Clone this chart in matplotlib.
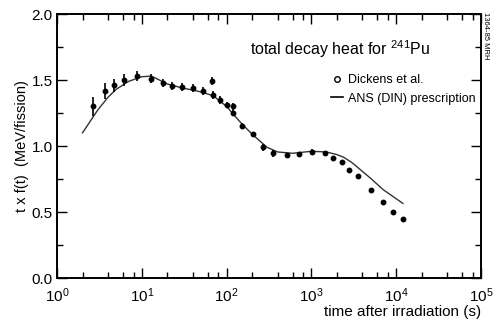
import matplotlib
matplotlib.use("Agg")
import matplotlib.pyplot as plt
from matplotlib.lines import Line2D
from matplotlib.ticker import LogLocator, MultipleLocator, NullFormatter
import numpy as np

plt.rcParams['font.family'] = ['Liberation Sans', 'DejaVu Sans']
plt.rcParams['mathtext.fontset'] = 'custom'
plt.rcParams['mathtext.rm'] = 'Liberation Sans'

# Dickens et al. measured points
t_meas = [2.68, 3.68, 4.74, 6.2, 8.85, 12.7, 17.9, 22.9, 30, 40.5, 53, 67.7, 69.5,
          83.6, 100, 120, 120, 151, 203, 268, 355, 510, 711, 1024, 1440, 1810,
          2300, 2810, 3550, 5030, 7070, 9120, 12100]
f_meas = [1.30, 1.42, 1.46, 1.50, 1.53, 1.51, 1.48, 1.457, 1.45, 1.437, 1.417, 1.49, 1.39,
          1.35, 1.31, 1.30, 1.25, 1.155, 1.09, 0.99, 0.945, 0.93, 0.937, 0.957, 0.945, 0.907,
          0.876, 0.82, 0.77, 0.67, 0.573, 0.50, 0.45]
f_err = [0.07, 0.06, 0.05, 0.045, 0.04, 0.035, 0.03, 0.03, 0.03, 0.03, 0.03, 0.03, 0.03,
         0.03, 0.025, 0.025, 0.025, 0.02, 0.02, 0.025, 0.025, 0.02, 0.02, 0.02, 0.015, 0.01,
         0.0, 0.0, 0.0, 0.0, 0.0, 0.0, 0.0]

# ANS (DIN) prescription curve
t_ans = [2, 3, 4, 5, 7, 10, 13, 20, 30, 50, 70, 100, 150, 200, 300, 400, 600,
         1000, 1500, 2000, 2400, 3000, 5000, 7000, 12000]
f_ans = [1.10, 1.27, 1.37, 1.43, 1.49, 1.525, 1.53, 1.47, 1.44, 1.41, 1.38, 1.30, 1.17,
         1.09, 0.99, 0.955, 0.945, 0.96, 0.955, 0.935, 0.915, 0.875, 0.755, 0.67, 0.565]

fig = plt.figure(figsize=(4.94, 3.27), dpi=100)
ax = fig.add_axes([0.1154, 0.1498, 0.8583, 0.8073])

ax.plot(t_ans, f_ans, color='#333333', lw=1.0)
ax.errorbar(t_meas, f_meas, yerr=f_err, fmt='o', color='black', ms=3.2,
            elinewidth=1.2, capsize=0)

ax.set_xscale('log')
ax.set_xlim(1, 1e5)
ax.set_ylim(0, 2.0)

ax.xaxis.set_major_locator(LogLocator(base=10, numticks=10))
ax.xaxis.set_minor_locator(LogLocator(base=10, subs=[2, 4, 6, 8], numticks=10))
ax.xaxis.set_minor_formatter(NullFormatter())
ax.yaxis.set_major_locator(MultipleLocator(0.5))
ax.yaxis.set_minor_locator(MultipleLocator(0.25))
ax.yaxis.set_major_formatter(plt.FuncFormatter(lambda v, p: f"{v:.1f}"))

ax.tick_params(which='both', direction='in', top=True, right=True, width=1.0,
               labelsize=11, pad=3)
ax.tick_params(axis='x', which='major', pad=6)
ax.tick_params(which='major', length=7)
ax.tick_params(which='minor', length=4)
for s in ax.spines.values():
    s.set_linewidth(1.4)

ax.set_xlabel('time after irradiation (s)', fontsize=11, loc='right', labelpad=0)
ax.set_ylabel('t x f(t)  (MeV/fission)', fontsize=10.5, labelpad=2)

ax.text(0.455, 0.845, 'total decay heat for $^{241}$Pu', transform=ax.transAxes,
        fontsize=11.5, ha='left', va='baseline')

handles = [Line2D([], [], ls='none', marker='o', mfc='white', mec='black', ms=4),
           Line2D([], [], color='black', lw=1.2)]
ax.legend(handles, ['Dickens et al.', 'ANS (DIN) prescription'], frameon=False,
          loc='upper right', bbox_to_anchor=(1.0, 0.79), fontsize=9,
          handlelength=1.0, handletextpad=0.4, labelspacing=0.5, borderaxespad=0)

fig.text(0.983, 0.89, '1364-85 MRH', rotation=270, fontsize=5.5, ha='center', va='center')

fig.savefig('out.png', dpi=100)
